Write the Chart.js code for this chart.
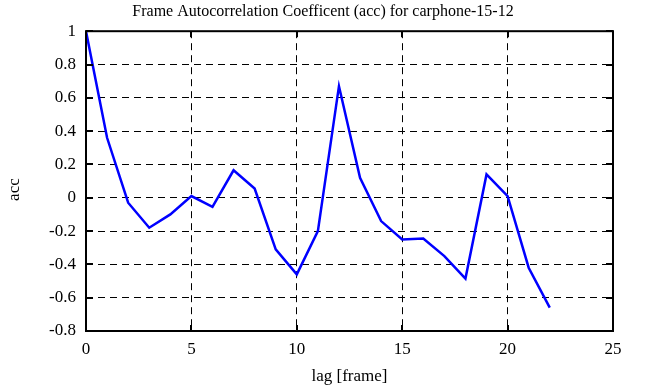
<!DOCTYPE html>
<html>
<head>
<meta charset="utf-8">
<script src="https://cdn.jsdelivr.net/npm/chart.js@4"></script>
<style>
html,body{margin:0;padding:0;background:#fff;}
#wrap{width:646px;height:387px;position:relative;}
</style>
</head>
<body>
<div id="wrap"><canvas id="c" width="646" height="387"></canvas></div>
<script>
const lags = [0,1,2,3,4,5,6,7,8,9,10,11,12,13,14,15,16,17,18,19,20,21,22];
const acc = [1,0.36,-0.03,-0.18,-0.10,0.01,-0.055,0.165,0.055,-0.31,-0.46,-0.20,0.67,0.12,-0.14,-0.25,-0.245,-0.35,-0.485,0.14,0.01,-0.42,-0.66];
const xTicks = [0,5,10,15,20,25];
const yTicks = [-0.8,-0.6,-0.4,-0.2,0,0.2,0.4,0.6,0.8,1];
const titleText = 'Frame Autocorrelation Coefficent (acc) for carphone-15-12';
const xLabel = 'lag [frame]';
const yLabel = 'acc';

const FONT = "'Liberation Serif', 'DejaVu Serif', serif";

const framePlugin = {
  id: 'frame',
  afterDraw(chart) {
    const {ctx, chartArea: a, scales} = chart;
    ctx.save();
    ctx.strokeStyle = '#000';
    ctx.lineWidth = 2;
    xTicks.forEach(v => {
      const x = Math.round(scales.x.getPixelForValue(v));
      ctx.beginPath(); ctx.moveTo(x, a.top); ctx.lineTo(x, a.top + 6); ctx.stroke();
      ctx.beginPath(); ctx.moveTo(x, a.bottom); ctx.lineTo(x, a.bottom - 6); ctx.stroke();
    });
    yTicks.forEach(v => {
      const y = Math.round(scales.y.getPixelForValue(v));
      ctx.beginPath(); ctx.moveTo(a.right, y); ctx.lineTo(a.right - 7, y); ctx.stroke();
      ctx.beginPath(); ctx.moveTo(a.left, y); ctx.lineTo(a.left + 7, y); ctx.stroke();
    });
    ctx.strokeRect(a.left, a.top, a.right - a.left, a.bottom - a.top);
    ctx.restore();
  }
};

new Chart(document.getElementById('c'), {
  type: 'line',
  data: {
    datasets: [{
      data: lags.map((l, i) => ({x: l, y: acc[i]})),
      borderColor: '#0000ff',
      borderWidth: 2.5,
      pointRadius: 0,
      fill: false,
      tension: 0
    }]
  },
  options: {
    responsive: false,
    animation: false,
    devicePixelRatio: 1,
    layout: {padding: 0},
    plugins: {
      legend: {display: false},
      tooltip: {enabled: false},
      title: {
        display: true,
        text: titleText,
        color: '#000',
        font: {family: FONT, size: 16, weight: 'normal'},
        padding: {top: 2, bottom: 10}
      }
    },
    scales: {
      x: {
        type: 'linear',
        min: 0, max: 25,
        afterBuildTicks: s => { s.ticks = xTicks.map(v => ({value: v})); },
        afterFit: s => { s.height = 56; },
        ticks: {
          color: '#000',
          font: {family: FONT, size: 17},
          padding: 8,
          maxRotation: 0,
          callback: v => String(v)
        },
        grid: {
          color: '#000',
          lineWidth: 1,
          drawTicks: false,
          tickLength: 0
        },
        border: {display: false, dash: [7, 5]},
        title: {
          display: true,
          text: xLabel,
          color: '#000',
          font: {family: FONT, size: 17},
          padding: {top: 2, bottom: 0}
        }
      },
      y: {
        type: 'linear',
        min: -0.8, max: 1,
        afterBuildTicks: s => { s.ticks = yTicks.map(v => ({value: v})); },
        afterFit: s => { s.width = 86; },
        ticks: {
          color: '#000',
          font: {family: FONT, size: 17},
          padding: 10,
          callback: v => String(Math.round(v * 10) / 10)
        },
        grid: {
          color: '#000',
          lineWidth: 1,
          drawTicks: false,
          tickLength: 0
        },
        border: {display: false, dash: [7, 5]},
        title: {
          display: true,
          text: yLabel + '\u00a0\u00a0\u00a0\u00a0',
          color: '#000',
          font: {family: FONT, size: 17},
          padding: {top: 4, bottom: 0}
        }
      },
      yRight: {
        type: 'linear',
        position: 'right',
        min: -0.8, max: 1,
        afterFit: s => { s.width = 33; },
        ticks: {display: false},
        grid: {display: false, drawTicks: false},
        border: {display: false}
      }
    }
  },
  plugins: [framePlugin]
});
</script>
</body>
</html>
